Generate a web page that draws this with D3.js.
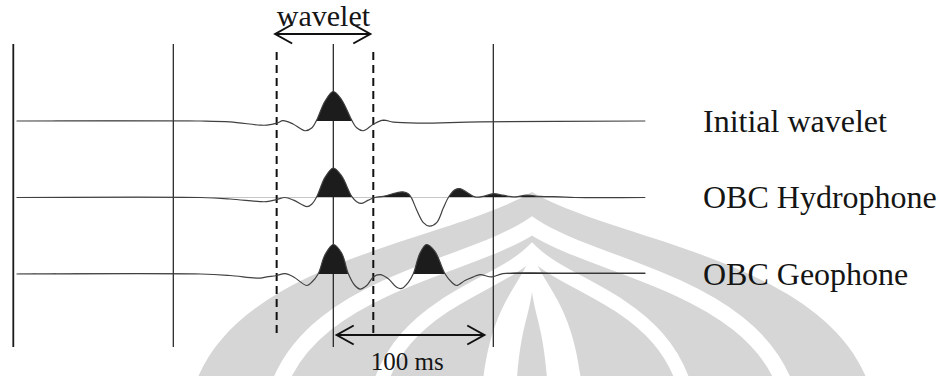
<!DOCTYPE html>
<html>
<head>
<meta charset="utf-8">
<script src="https://cdn.jsdelivr.net/npm/d3@7"></script>
<style>
  html, body { margin: 0; padding: 0; background: #fff; }
  svg text { font-family: "Liberation Serif", "Times New Roman", Times, serif; fill: #151515; }
</style>
</head>
<body>
<div id="chart"></div>
<script>
// traces, [time ms, normalised amplitude]
const initialWavelet = [
  [-198, 0], [-83, 0], [-64.6, -0.03], [-45.8, -0.14], [-41.5, -0.14], [-35.2, -0.07],
  [-31.4, 0.01], [-25.2, -0.1], [-17.7, -0.33], [-13.3, -0.23], [-10.4, 0.03],
  [-5.2, 0.67], [0, 1.0], [5.2, 0.72], [11.5, 0.03], [14.6, -0.23], [18.8, -0.33],
  [25, -0.11], [31.3, 0.03], [37.5, -0.04], [54, -0.07], [92, -0.03], [195, 0]
];
const obcHydrophone = [
  [-198, 0], [-83, 0], [-64.6, -0.05], [-45.8, -0.14], [-41.6, -0.14], [-35.4, -0.07],
  [-30.2, 0], [-24.8, -0.09], [-16.5, -0.31], [-13.5, -0.23], [-10.4, 0.02],
  [-5.2, 0.68], [0, 1.0], [5.2, 0.73], [11.5, 0.04], [14.6, -0.14], [17.7, -0.2],
  [21.9, -0.09], [26, 0], [31.2, 0.04], [39.6, 0.16], [43.5, 0.19], [46.9, 0.13],
  [49, -0.03], [52.1, -0.42], [56.3, -0.85], [60, -0.97], [64.6, -0.85], [68.75, -0.36],
  [71.9, 0], [76, 0.26], [79.2, 0.3], [83.4, 0.18], [88.6, 0.02], [93.75, 0.04],
  [100, 0.13], [106, 0.08], [112.5, 0.02], [120.9, 0.08], [129, 0.04], [141.7, 0.02],
  [151, 0], [195, 0]
];
const obcGeophone = [
  [-198, 0], [-83, 0], [-64.6, -0.05], [-45.8, -0.14], [-41.6, -0.1], [-35.4, -0.05],
  [-30.2, 0.01], [-24.8, -0.1], [-16.5, -0.39], [-13.5, -0.28], [-9.4, 0.01],
  [-5.2, 0.65], [0, 1.0], [5.2, 0.71], [9.4, 0.01], [13.5, -0.39], [16.7, -0.51],
  [20.9, -0.39], [25, -0.1], [29.2, -0.02], [34.4, -0.16], [39.6, -0.45], [42.7, -0.49],
  [46.9, -0.28], [50, 0.01], [54.2, 0.71], [58.3, 1.0], [63.5, 0.77], [69.8, 0.01],
  [74, -0.28], [77.1, -0.39], [82.3, -0.22], [87.5, -0.1], [91.7, -0.02], [99, -0.1],
  [106, 0.01], [142, 0.03], [195, 0.03]
];
const traceNames = ["Initial wavelet", "OBC Hydrophone", "OBC Geophone"];
const gridTimes = [-200, -100, 0, 100];
const waveletWindow = [-35.4, 25];
const scaleBar = [0, 100];
const scaleLabel = "100 ms";
const windowLabel = "wavelet";

const width = 940, height = 376;
const serif = '"Liberation Serif", "Times New Roman", Times, serif';

const svg = d3.select("#chart").append("svg")
  .attr("width", width)
  .attr("height", height);

// faint logo watermark in the background
const mark = svg.append("g");
function onion(cx, tip, w, base) {
  const h = base - tip;
  return `M${cx - w},${base} C${cx - w * 1.04},${base - h * 0.72} ${cx - w * 0.28},${tip + h * 0.22} ${cx},${tip}`
    + ` C${cx + w * 0.28},${tip + h * 0.22} ${cx + w * 1.04},${base - h * 0.72} ${cx + w},${base}`;
}
mark.append("path").attr("d", onion(532, 192, 345, 450) + "Z").attr("fill", "#d6d6d6");
[[262, 226, 16], [160, 252, 14]].forEach(([w, tip, sw]) => {
  mark.append("path").attr("d", onion(532, tip, w, 450))
    .attr("fill", "none").attr("stroke", "#fff").attr("stroke-width", sw);
});
mark.append("path").attr("d", onion(532, 252, 52, 450) + "Z").attr("fill", "#fff");
mark.append("path").attr("d", onion(532, 292, 17, 450) + "Z").attr("fill", "#d6d6d6");

const x = d3.scaleLinear().domain([-200, 200]).range([13.3, 653.3]);
const yBase = d3.scalePoint().domain(traceNames).range([121, 274]);
const amp = 29.5;

// time lines
svg.append("g").selectAll("line")
  .data(gridTimes)
  .join("line")
  .attr("x1", d => x(d)).attr("x2", d => x(d))
  .attr("y1", 44).attr("y2", 347)
  .style("stroke", "#1a1a1a")
  .style("stroke-width", (d, i) => i === 0 ? 1.8 : 1.2);

// wavelet window
svg.append("g").selectAll("line")
  .data(waveletWindow)
  .join("line")
  .attr("x1", d => x(d)).attr("x2", d => x(d))
  .attr("y1", 52).attr("y2", 337)
  .style("stroke", "#111")
  .style("stroke-width", 2)
  .style("stroke-dasharray", "8,5");

// traces
const traces = [initialWavelet, obcHydrophone, obcGeophone];
const defs = svg.append("defs");
traces.forEach((data, i) => {
  const base = yBase(traceNames[i]);
  const y = v => base - v * amp;
  defs.append("clipPath").attr("id", "pos" + i)
    .append("rect").attr("x", 0).attr("y", 0).attr("width", width).attr("height", base);

  const area = d3.area()
    .x(d => x(d[0]))
    .y0(base)
    .y1(d => y(d[1]))
    .curve(d3.curveCatmullRom.alpha(0.5));
  const line = d3.line()
    .x(d => x(d[0]))
    .y(d => y(d[1]))
    .curve(d3.curveCatmullRom.alpha(0.5));

  svg.append("path")
    .datum(data)
    .attr("d", area)
    .attr("clip-path", `url(#pos${i})`)
    .style("fill", "#1c1c1c");
  svg.append("path")
    .datum(data)
    .attr("d", line)
    .style("fill", "none")
    .style("stroke", "#404040")
    .style("stroke-width", 1.2);

  svg.append("text")
    .attr("x", 703)
    .attr("y", base + 10.5)
    .attr("font-family", serif)
    .style("font-size", "32px")
    .text(traceNames[i]);
});

// double arrows
function arrow(x1, x2, yy) {
  const g = svg.append("g").style("stroke", "#111").style("stroke-width", 2).style("fill", "none");
  g.append("line").attr("x1", x1).attr("x2", x2).attr("y1", yy).attr("y2", yy);
  g.append("path").attr("d", `M${x1 + 17},${yy - 9.5}L${x1},${yy}L${x1 + 17},${yy + 9.5}`);
  g.append("path").attr("d", `M${x2 - 17},${yy - 9.5}L${x2},${yy}L${x2 - 17},${yy + 9.5}`);
}
arrow(x(waveletWindow[0]) - 1.5, x(waveletWindow[1]) - 3, 34);
arrow(x(scaleBar[0]) + 3.4, x(scaleBar[1]) - 9, 335);

svg.append("text")
  .attr("x", (x(waveletWindow[0]) + x(waveletWindow[1])) / 2 - 1.5)
  .attr("y", 26)
  .attr("text-anchor", "middle")
  .attr("font-family", serif)
  .style("font-size", "30px")
  .text(windowLabel);

svg.append("text")
  .attr("x", (x(scaleBar[0]) + x(scaleBar[1])) / 2 - 6)
  .attr("y", 370)
  .attr("text-anchor", "middle")
  .attr("font-family", serif)
  .style("font-size", "25px")
  .text(scaleLabel);
</script>
</body>
</html>
